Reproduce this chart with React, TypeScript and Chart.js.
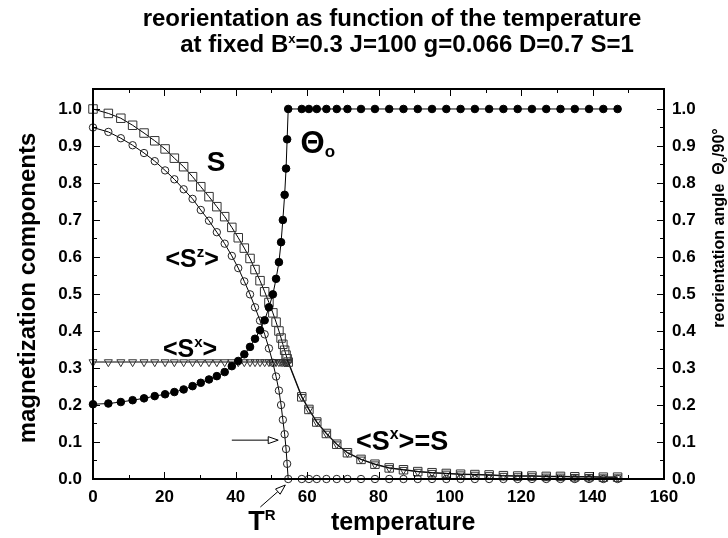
import React, { useEffect, useRef } from "react";
import { Chart, registerables } from "chart.js";
Chart.register(...registerables);

// ---------- data ----------
const temperature = [
  0, 4.3, 7.8, 11.1, 14.3, 17.3, 20.2, 22.8, 25.4, 27.9,
  30.2, 32.5, 34.7, 36.9, 38.9, 40.7, 42.4, 44.0, 45.4, 46.8,
  48.1, 49.3, 50.4, 51.3, 52.1, 52.7, 53.2, 53.7, 54.1, 54.4,
  54.7, 58.5, 60.5, 62.7, 65.4, 68.3, 71.3, 75.1, 79.0, 83.0,
  87.0, 91.0, 95.0, 99.0, 103.0, 107.0, 111.0, 115.0, 119.0, 123.0,
  127.0, 131.0, 135.0, 139.0, 143.0, 147.0,
];

const magnS = [
  1.0, 0.988, 0.975, 0.956, 0.935, 0.914, 0.892, 0.867, 0.844, 0.817,
  0.790, 0.763, 0.736, 0.709, 0.680, 0.652, 0.624, 0.596, 0.566, 0.536,
  0.506, 0.477, 0.449, 0.424, 0.400, 0.381, 0.364, 0.348, 0.335, 0.325,
  0.316, 0.222, 0.188, 0.154, 0.123, 0.094, 0.071, 0.053, 0.040, 0.030,
  0.025, 0.020, 0.017, 0.015, 0.013, 0.012, 0.011, 0.009, 0.008, 0.008,
  0.007, 0.007, 0.006, 0.006, 0.005, 0.005,
];

const magnSz = [
  0.950, 0.938, 0.921, 0.902, 0.881, 0.859, 0.834, 0.810, 0.783, 0.757,
  0.727, 0.698, 0.667, 0.636, 0.603, 0.570, 0.534, 0.499, 0.464, 0.428,
  0.391, 0.353, 0.314, 0.277, 0.239, 0.200, 0.160, 0.121, 0.081, 0.041,
  0.0, 0.0, 0.0, 0.0, 0.0, 0.0, 0.0, 0.0, 0.0, 0.0,
  0.0, 0.0, 0.0, 0.0, 0.0, 0.0, 0.0, 0.0, 0.0, 0.0,
  0.0, 0.0, 0.0, 0.0, 0.0, 0.0,
];

const magnSx = [
  0.316, 0.316, 0.316, 0.316, 0.316, 0.316, 0.316, 0.316, 0.316, 0.316,
  0.316, 0.316, 0.316, 0.316, 0.316, 0.316, 0.316, 0.316, 0.316, 0.316,
  0.316, 0.316, 0.316, 0.316, 0.316, 0.316, 0.316, 0.316, 0.316, 0.316,
  0.316, 0.222, 0.188, 0.154, 0.123, 0.094, 0.071, 0.053, 0.040, 0.030,
  0.025, 0.020, 0.017, 0.015, 0.013, 0.012, 0.011, 0.009, 0.008, 0.008,
  0.007, 0.007, 0.006, 0.006, 0.005, 0.005,
];

const thetaRatio = [
  0.202, 0.204, 0.208, 0.213, 0.218, 0.224, 0.229, 0.235, 0.242, 0.251,
  0.260, 0.269, 0.278, 0.289, 0.305, 0.319, 0.337, 0.357, 0.379, 0.402,
  0.429, 0.464, 0.499, 0.541, 0.586, 0.640, 0.700, 0.768, 0.839, 0.918,
  1.0, 1.0, 1.0, 1.0, 1.0, 1.0, 1.0, 1.0, 1.0, 1.0,
  1.0, 1.0, 1.0, 1.0, 1.0, 1.0, 1.0, 1.0, 1.0, 1.0,
  1.0, 1.0, 1.0, 1.0, 1.0, 1.0,
];

const xTickValues = [0, 20, 40, 60, 80, 100, 120, 140, 160];
const yTickValues = [0, 0.1, 0.2, 0.3, 0.4, 0.5, 0.6, 0.7, 0.8, 0.9, 1.0];

const titleLine1 = "reorientation as function of the temperature";
const xTitle = "temperature";
const yTitle = "magnetization components";

// ---------- helpers ----------
const FAMILY = '"Liberation Sans", Arial, Helvetica, sans-serif';
const bold = (s: number) => `bold ${s}px ${FAMILY}`;

type Part = { t: string; size: number; dy?: number };

function drawParts(ctx: CanvasRenderingContext2D, parts: Part[], x: number, y: number, align: "left" | "center") {
  let w = 0;
  for (const p of parts) {
    ctx.font = bold(p.size);
    w += ctx.measureText(p.t).width;
  }
  let cx = align === "center" ? x - w / 2 : x;
  ctx.textAlign = "left";
  ctx.textBaseline = "alphabetic";
  for (const p of parts) {
    ctx.font = bold(p.size);
    ctx.fillText(p.t, cx, y + (p.dy || 0));
    cx += ctx.measureText(p.t).width;
  }
}

function arrow(ctx: CanvasRenderingContext2D, x1: number, y1: number, x2: number, y2: number) {
  const a = Math.atan2(y2 - y1, x2 - x1);
  const len = 10, hw = 3.5;
  const bx = x2 - len * Math.cos(a), by = y2 - len * Math.sin(a);
  ctx.beginPath();
  ctx.moveTo(x1, y1);
  ctx.lineTo(bx, by);
  ctx.stroke();
  ctx.beginPath();
  ctx.moveTo(x2, y2);
  ctx.lineTo(bx + hw * Math.sin(a), by - hw * Math.cos(a));
  ctx.lineTo(bx - hw * Math.sin(a), by + hw * Math.cos(a));
  ctx.closePath();
  ctx.fillStyle = "#fff";
  ctx.fill();
  ctx.stroke();
}

const decorPlugin = {
  id: "decor",
  afterDatasetsDraw(chart: any) {
    const ctx: CanvasRenderingContext2D = chart.ctx;
    const { left, right, top, bottom } = chart.chartArea;
    const xs = chart.scales.x;
    const ys = chart.scales.y;
    const P = (t: number, v: number) => [xs.getPixelForValue(t), ys.getPixelForValue(v)];
    ctx.save();
    ctx.strokeStyle = "#000";
    ctx.fillStyle = "#000";

    // frame
    ctx.lineWidth = 2;
    ctx.strokeRect(left, top, right - left, bottom - top);

    // inward ticks
    ctx.lineWidth = 1;
    ctx.beginPath();
    const xMinor: number[] = [];
    for (let i = 0; i < xTickValues.length - 1; i++) xMinor.push((xTickValues[i] + xTickValues[i + 1]) / 2);
    const yMinor: number[] = [];
    for (let i = 0; i < yTickValues.length - 1; i++) yMinor.push((yTickValues[i] + yTickValues[i + 1]) / 2);
    const xt = (v: number, l: number) => {
      const px = Math.round(xs.getPixelForValue(v)) + 0.5;
      ctx.moveTo(px, bottom); ctx.lineTo(px, bottom - l);
      ctx.moveTo(px, top); ctx.lineTo(px, top + l);
    };
    const yt = (v: number, l: number) => {
      const py = Math.round(ys.getPixelForValue(v)) + 0.5;
      ctx.moveTo(left, py); ctx.lineTo(left + l, py);
      ctx.moveTo(right, py); ctx.lineTo(right - l, py);
    };
    xTickValues.forEach((v) => xt(v, 7));
    xMinor.forEach((v) => xt(v, 4));
    yTickValues.forEach((v) => yt(v, 7));
    yMinor.forEach((v) => yt(v, 4));
    ctx.stroke();

    // in-plot labels
    ctx.fillStyle = "#000";
    let [px, py] = P(34.5, 0.86);
    drawParts(ctx, [{ t: "S", size: 28 }], px, py + 10, "center");
    [px, py] = P(27.8, 0.596);
    drawParts(ctx, [{ t: "<S", size: 25 }, { t: "z", size: 15, dy: -10 }, { t: ">", size: 25 }], px, py + 9, "center");
    [px, py] = P(27.2, 0.353);
    drawParts(ctx, [{ t: "<S", size: 25 }, { t: "x", size: 15, dy: -10 }, { t: ">", size: 25 }], px, py + 9, "center");
    [px, py] = P(86.6, 0.105);
    drawParts(ctx, [{ t: "<S", size: 27 }, { t: "x", size: 16, dy: -11 }, { t: ">=S", size: 27 }], px, py + 10, "center");
    [px, py] = P(63.0, 0.912);
    drawParts(ctx, [{ t: "\u0398", size: 31 }, { t: "o", size: 17, dy: 4 }], px, py + 11, "center");

    // arrow pointing at T^R on the <Sz> curve
    ctx.lineWidth = 1;
    let [ax1, ay1] = P(38.9, 0.105);
    let [ax2, ay2] = P(51.9, 0.105);
    arrow(ctx, ax1, ay1, ax2, ay2);
    // arrow from T^R label to axis
    const tip = xs.getPixelForValue(53.9);
    arrow(ctx, tip - 25, bottom + 28, tip, bottom + 6);

    ctx.fillStyle = "#000";
    drawParts(ctx, [{ t: "T", size: 27 }, { t: "R", size: 15, dy: -10 }], xs.getPixelForValue(47.3), bottom + 51, "center");
    drawParts(ctx, [{ t: xTitle, size: 25 }], xs.getPixelForValue(86.9), bottom + 51, "center");

    // titles
    drawParts(ctx, [{ t: titleLine1, size: 24 }], 392, 26, "center");
    drawParts(
      ctx,
      [
        { t: "at fixed B", size: 24 },
        { t: "x", size: 13, dy: -9 },
        { t: "=0.3 J=100 g=0.066 D=0.7 S=1", size: 24 },
      ],
      407, 52, "center"
    );

    // left axis title
    ctx.save();
    ctx.translate(35, 288);
    ctx.rotate(-Math.PI / 2);
    drawParts(ctx, [{ t: yTitle, size: 24 }], 0, 0, "center");
    ctx.restore();

    // right axis title
    ctx.save();
    ctx.translate(724, 228);
    ctx.rotate(-Math.PI / 2);
    drawParts(
      ctx,
      [
        { t: "reorientation angle  \u0398", size: 16 },
        { t: "o", size: 9, dy: 3 },
        { t: "/90\u00b0", size: 16 },
      ],
      0, 0, "center"
    );
    ctx.restore();

    ctx.restore();
  },
};

const pts = (ys: number[]) => temperature.map((t, i) => ({ x: t, y: ys[i] }));

const tickFont = { family: FAMILY, size: 17, weight: "bold" as const };

export default function App() {
  const ref = useRef<HTMLCanvasElement>(null);
  useEffect(() => {
    document.body.style.margin = "0";
    const chart = new Chart(ref.current!, {
      type: "scatter",
      data: {
        datasets: [
          {
            label: "theta",
            data: pts(thetaRatio),
            yAxisID: "y2",
            showLine: true,
            borderColor: "#000",
            borderWidth: 1,
            pointStyle: "circle",
            pointRadius: 3.8,
            pointBackgroundColor: "#000",
            pointBorderColor: "#000",
            pointBorderWidth: 1,
            clip: false,
            order: 0,
          },
          {
            label: "S",
            data: pts(magnS),
            yAxisID: "y",
            showLine: true,
            borderColor: "#000",
            borderWidth: 1,
            pointStyle: "rect",
            pointRadius: 6,
            pointBackgroundColor: "rgba(0,0,0,0)",
            pointBorderColor: "#333",
            pointBorderWidth: 1,
            clip: false,
            order: 2,
          },
          {
            label: "Sx",
            data: pts(magnSx),
            yAxisID: "y",
            showLine: true,
            borderColor: "#555",
            borderWidth: 1.5,
            pointStyle: "triangle",
            pointRotation: 180,
            pointRadius: 4.6,
            pointBackgroundColor: "rgba(0,0,0,0)",
            pointBorderColor: "#333",
            pointBorderWidth: 1,
            clip: false,
            order: 3,
          },
          {
            label: "Sz",
            data: pts(magnSz),
            yAxisID: "y",
            showLine: true,
            borderColor: "#000",
            borderWidth: 1,
            pointStyle: "circle",
            pointRadius: 3.7,
            pointBackgroundColor: "rgba(0,0,0,0)",
            pointBorderColor: "#222",
            pointBorderWidth: 1,
            clip: false,
            order: 1,
          },
        ],
      },
      options: {
        responsive: false,
        animation: false,
        devicePixelRatio: 1,
        layout: { padding: { top: 89, left: 0, right: 0, bottom: 0 } },
        plugins: { legend: { display: false }, tooltip: { enabled: false }, title: { display: false } },
        elements: { line: { tension: 0 } },
        scales: {
          x: {
            type: "linear",
            min: 0,
            max: 160,
            grid: { display: false, drawTicks: false },
            border: { display: false },
            afterBuildTicks: (s: any) => {
              s.ticks = xTickValues.map((value) => ({ value }));
            },
            afterFit: (s: any) => {
              s.height = 59;
            },
            ticks: {
              color: "#000",
              font: tickFont,
              padding: 8,
              maxRotation: 0,
              autoSkip: false,
              callback: (v: any) => String(v),
            },
          },
          y: {
            type: "linear",
            position: "left",
            min: 0,
            max: 1.054,
            grid: { display: false, drawTicks: false },
            border: { display: false },
            afterBuildTicks: (s: any) => {
              s.ticks = yTickValues.map((value) => ({ value }));
            },
            afterFit: (s: any) => {
              s.width = 93;
            },
            ticks: {
              color: "#000",
              font: tickFont,
              padding: 11,
              autoSkip: false,
              callback: (v: any) => Number(v).toFixed(1),
            },
          },
          y2: {
            type: "linear",
            position: "right",
            min: 0,
            max: 1.054,
            grid: { display: false, drawTicks: false },
            border: { display: false },
            afterBuildTicks: (s: any) => {
              s.ticks = yTickValues.map((value) => ({ value }));
            },
            afterFit: (s: any) => {
              s.width = 64;
            },
            ticks: {
              color: "#000",
              font: tickFont,
              padding: 8,
              autoSkip: false,
              callback: (v: any) => Number(v).toFixed(1),
            },
          },
        },
      },
      plugins: [decorPlugin],
    } as any);
    return () => chart.destroy();
  }, []);
  return (
    <canvas
      ref={ref}
      width={728}
      height={538}
      style={{ display: "block", width: 728, height: 538 }}
    />
  );
}
